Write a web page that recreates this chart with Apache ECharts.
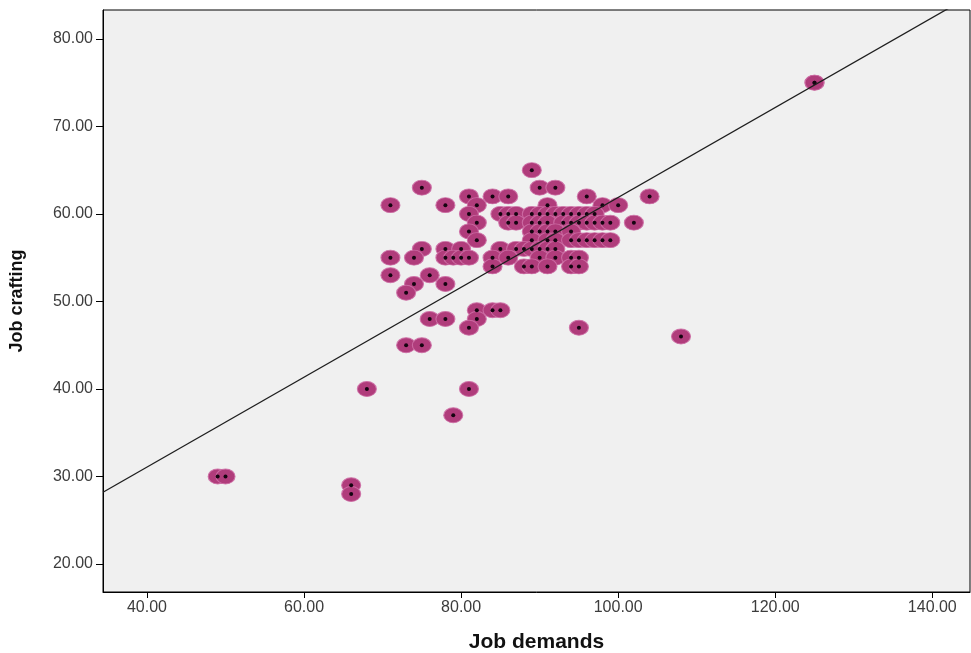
<!DOCTYPE html>
<html>
<head>
<meta charset="utf-8">
<script src="https://cdn.jsdelivr.net/npm/echarts@6/dist/echarts.min.js"></script>
<style>
html,body{margin:0;padding:0;background:#fff;}
#chart{width:971px;height:653px;}
</style>
</head>
<body>
<div id="chart"></div>
<script>
// Job demands (x) for each respondent
var jobDemands = [
  125, 125,
  89,
  75, 90, 92,
  81, 84, 86, 96, 104,
  71, 78, 82, 91, 98, 100,
  81, 85, 86, 87, 89, 90, 91, 92, 93, 94, 95, 96, 97,
  82, 86, 87, 89, 90, 91, 93, 94, 95, 96, 97, 98, 99, 102,
  81, 89, 90, 91, 92, 94,
  82, 89, 91, 92, 94, 95, 96, 97, 98, 99,
  75, 78, 80, 85, 87, 88, 89, 90, 91, 92,
  71, 74, 78, 79, 80, 81, 84, 86, 90, 92, 94, 95,
  84, 88, 89, 91, 94, 95,
  71, 76,
  74, 78,
  73,
  82, 84, 85,
  76, 78, 82,
  81, 95,
  108,
  73, 75,
  68, 81,
  79,
  49, 50,
  66,
  66
];
// Job crafting (y) for each respondent
var jobCrafting = [
  75, 75,
  65,
  63, 63, 63,
  62, 62, 62, 62, 62,
  61, 61, 61, 61, 61, 61,
  60, 60, 60, 60, 60, 60, 60, 60, 60, 60, 60, 60, 60,
  59, 59, 59, 59, 59, 59, 59, 59, 59, 59, 59, 59, 59, 59,
  58, 58, 58, 58, 58, 58,
  57, 57, 57, 57, 57, 57, 57, 57, 57, 57,
  56, 56, 56, 56, 56, 56, 56, 56, 56, 56,
  55, 55, 55, 55, 55, 55, 55, 55, 55, 55, 55, 55,
  54, 54, 54, 54, 54, 54,
  53, 53,
  52, 52,
  51,
  49, 49, 49,
  48, 48, 48,
  47, 47,
  46,
  45, 45,
  40, 40,
  37,
  30, 30,
  29,
  28
];
// Tick labels
var xTicks = [40, 60, 80, 100, 120, 140];
var yTicks = [20, 30, 40, 50, 60, 70, 80];
// Linear fit line
var fitIntercept = 10.54;
var fitSlope = 0.5135;

var xMin = 34.4, xMax = 144.8, yMin = 16.8, yMax = 83.3;

var points = jobDemands.map(function (x, i) { return [x, jobCrafting[i]]; });
var fitLine = [[xMin, fitIntercept + fitSlope * xMin], [xMax, fitIntercept + fitSlope * xMax]];

var chart = echarts.init(document.getElementById('chart'), null, {renderer: 'canvas'});
var labelStyle = {
  color: '#3c3c3c',
  fontFamily: 'Liberation Sans, Arial, sans-serif',
  fontSize: 16,
  formatter: function (v) { return Number(v).toFixed(2); }
};
chart.setOption({
  animation: false,
  backgroundColor: '#ffffff',
  grid: {
    left: 103, right: 1, top: 10, bottom: 61,
    outerBoundsMode: 'none',
    containLabel: false,
    show: true,
    backgroundColor: '#f0f0f0',
    borderColor: '#000000',
    borderWidth: 1
  },
  xAxis: {
    type: 'value',
    min: xMin, max: xMax,
    name: 'Job demands',
    nameLocation: 'middle',
    nameGap: 40,
    nameTextStyle: {fontFamily: 'Liberation Sans, Arial, sans-serif', fontWeight: 'bold', fontSize: 21, color: '#111'},
    axisLine: {show: true, lineStyle: {color: '#000', width: 1}},
    axisTick: {show: true, length: 6, lineStyle: {color: '#000'}, customValues: xTicks},
    axisLabel: Object.assign({margin: 8, customValues: xTicks}, labelStyle),
    splitLine: {show: false}
  },
  yAxis: {
    type: 'value',
    min: yMin, max: yMax,
    name: 'Job crafting',
    nameLocation: 'middle',
    nameGap: 77,
    nameTextStyle: {fontFamily: 'Liberation Sans, Arial, sans-serif', fontWeight: 'bold', fontSize: 18, color: '#111'},
    axisLine: {show: true, lineStyle: {color: '#000', width: 1}},
    axisTick: {show: true, length: 7, lineStyle: {color: '#000'}, customValues: yTicks},
    axisLabel: Object.assign({margin: 10, customValues: yTicks}, labelStyle),
    splitLine: {show: false}
  },
  series: [
    {
      type: 'scatter',
      data: points,
      symbol: 'circle',
      symbolSize: [19, 15],
      itemStyle: {color: '#b03c7b', opacity: 1, borderColor: 'rgba(205,110,165,0.9)', borderWidth: 1},
      silent: true,
      z: 2
    },
    {
      type: 'scatter',
      data: points,
      symbol: 'circle',
      symbolSize: 4,
      itemStyle: {color: '#140410', opacity: 1},
      silent: true,
      z: 3
    },
    {
      type: 'line',
      data: fitLine,
      symbol: 'none',
      clip: true,
      lineStyle: {color: '#1e1e1e', width: 1.3},
      silent: true,
      z: 4
    }
  ]
});
</script>
</body>
</html>
